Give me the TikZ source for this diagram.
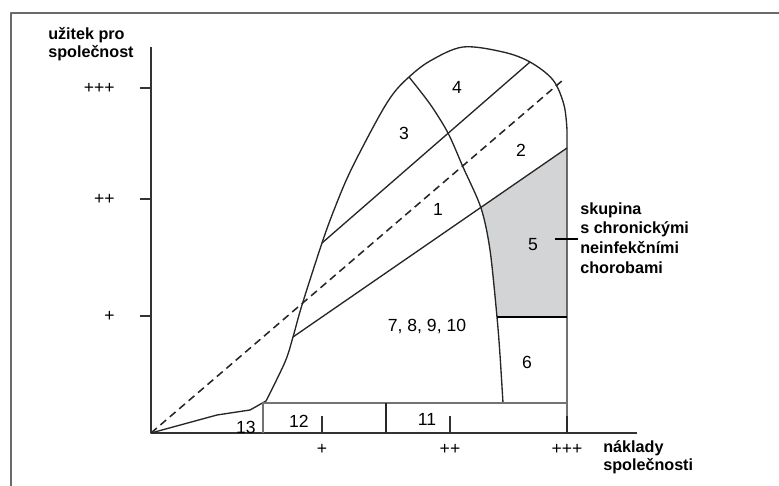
\documentclass[tikz,border=0pt]{standalone}
\usepackage{fontspec}
\setmainfont{Liberation Sans}
\usetikzlibrary{positioning}
\definecolor{chron}{HTML}{D3D4D6}
\definecolor{frm}{HTML}{6A6A6A}

\begin{document}
\begin{tikzpicture}[x=0.25mm, y=-0.25mm, line join=round,
  num/.style={font=\fontsize{12.5}{15}\selectfont, inner sep=0pt},
  axlbl/.style={font=\fontsize{11.5}{13}\selectfont\bfseries, align=left, inner sep=0pt, anchor=west},
  bnd/.style={draw=black!85, line width=0.95pt},
  ax/.style={draw=black!80, line width=1.25pt},
  sep/.style={draw=black, line width=2pt}]
\useasboundingbox (0,0) rectangle (779,486);
% ---------------- frame and axes
\draw[frm, line width=1.3pt] (11,500) -- (11,13) -- (800,13);
\coordinate (O) at (151,433);
\coordinate (ytop) at (151,47);
\coordinate (xend) at (637,433);
\draw[ax] (ytop) -- (O) -- (xend);
\foreach \y/\t [count=\i] in {88/+++,199/++,316/+} {
  \draw[ax] (140,\y) -- (151,\y);
  \node[num, anchor=east] (yt\i) at (115,\y) {\t};
}
\foreach \x/\t [count=\i] in {322/+,450/++,567/+++} {
  \draw[ax] (\x,416) -- (\x,433);
  \node[num] (xt\i) at (\x,449) {\t};
}
\node[axlbl] (ylab) at (48,44) {užitek pro\\společnost};
\node[axlbl] (xlab) at (603,457) {náklady\\společnosti};
% ---------------- group 5 (shaded)
\coordinate (a1) at (322,243);
\coordinate (a2) at (530,62);
\coordinate (b1) at (293,337);
\coordinate (b2) at (567,148);
\begin{scope}
\clip plot[smooth, tension=0.5] coordinates {(409,77) (430,104) (448,133) (463,167) (481,208) (490,250) (497,317) (500,355) (503,403)}
  -- (700,403) -- (700,0) -- (409,0) -- cycle;
\fill[chron] (b1) -- (b2) -- (567,317) -- (b1 |- 0,317) -- cycle;
\end{scope}
% ---------------- boundaries
\draw[bnd] (O) -- (217,415) -- (250,410) -- (266,401)
  plot[smooth, tension=0.55] coordinates {(266,401) (285,362) (293,337) (302,305) (322,243) (334,210) (350,172) (377,120) (393,94) (409,77) (430,61) (463,47) (503,52) (530,62) (553,80) (564,105) (567,130)}
  -- (567,433);
\draw[bnd] plot[smooth, tension=0.5] coordinates {(409,77) (430,104) (448,133) (463,167) (481,208) (490,250) (497,317) (500,355) (503,403)};
\draw[bnd] (a1) -- (a2);
\draw[bnd] (b1) -- (b2);
\draw[bnd, line width=1.1pt, dash pattern=on 1.9mm off 1.2mm] (O) -- (563,80);
\draw[draw=black!55, line width=1.5pt] (263,433) -- (263,403) -- (567,403);
\draw[bnd] (386,403) -- (386,433);
\draw[sep] (497,317) -- (567,317);
\draw[sep] (555,239) -- (578,239);
% ---------------- labels
\node[num] (g4) at (457,87) {4};
\node[num] (g3) at (404,133) {3};
\node[num] (g2) at (521,150) {2};
\node[num] (g1) at (438,209) {1};
\node[num] (g5) at (533,245) {5};
\node[num, text depth=0pt] (g7) at (427,325) {7, 8, 9, 10};
\node[num] (g6) at (527,362) {6};
\node[num] (g12) at (299,421) {12};
\node[num] (g11) at (427,419) {11};
\node[num] (g13) at (246,427) {13};
\node[axlbl, font=\fontsize{11.5}{14}\selectfont\bfseries] (chr) at (580,238) {skupina\\s chronickými\\neinfekčními\\chorobami};
\end{tikzpicture}
\end{document}
